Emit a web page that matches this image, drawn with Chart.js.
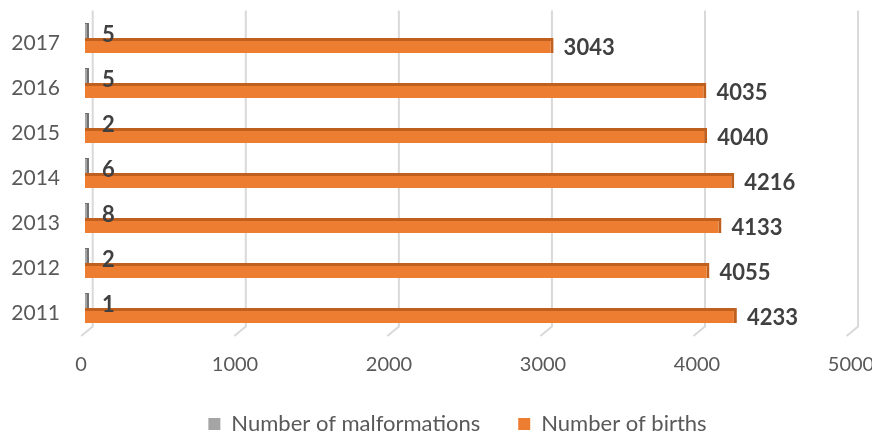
<!DOCTYPE html>
<html>
<head>
<meta charset="utf-8">
<script src="https://cdn.jsdelivr.net/npm/chart.js@4/dist/chart.umd.min.js"></script>
<style>
  html, body { margin: 0; padding: 0; background: #ffffff; }
  #wrap { width: 872px; height: 434px; }
</style>
</head>
<body>
<div id="wrap"><canvas id="chart"></canvas></div>
<script>
// Yearly counts
const years = ['2011', '2012', '2013', '2014', '2015', '2016', '2017'];
const malformations = [1, 2, 8, 6, 2, 5, 5];
const births = [4233, 4055, 4133, 4216, 4040, 4035, 3043];
const xTicks = [0, 1000, 2000, 3000, 4000, 5000];
const seriesNames = ['Number of malformations', 'Number of births'];

const FONT = 'Lato, "Open Sans", sans-serif';
const TEXT = '#595959';

// Back-wall grid lines with a short slanted foot toward the value labels
const backWall = {
  id: 'backWall',
  beforeDatasetsDraw(chart) {
    const { ctx, chartArea, scales: { x } } = chart;
    ctx.save();
    ctx.strokeStyle = '#d9d9d9';
    ctx.lineWidth = 2;
    x.ticks.forEach(t => {
      const px = x.getPixelForValue(t.value);
      const bx = x.left + (px - x.left) * 0.994 + 7.7;
      ctx.beginPath();
      ctx.moveTo(bx, chartArea.top - 5);
      ctx.lineTo(bx, chartArea.bottom - 4);
      ctx.lineTo(bx - 11.5, chartArea.bottom + 5.5);
      ctx.stroke();
    });
    ctx.restore();
  }
};

// Bold value labels just past the end of each bar
const valueLabels = {
  id: 'valueLabels',
  afterDatasetsDraw(chart) {
    const { ctx } = chart;
    ctx.save();
    ctx.font = 'bold 22px ' + FONT;
    ctx.fillStyle = '#404040';
    ctx.textAlign = 'left';
    ctx.textBaseline = 'middle';
    chart.data.datasets.forEach((ds, i) => {
      const meta = chart.getDatasetMeta(i);
      const gap = i === 0 ? 13 : 10;
      const dy = i === 0 ? 4 : 2;
      meta.data.forEach((el, j) => {
        ctx.fillText(String(ds.data[j]), el.x + gap, el.y + dy);
      });
    });
    ctx.restore();
  }
};

// Fixed legend band height at the bottom, nudged right under the plot
const LEGEND_SHIFT = 30;
const legendBand = {
  id: 'legendBand',
  afterInit(chart) {
    const lg = chart.legend;
    if (!lg) return;
    const fit = lg.fit;
    lg.fit = function () {
      fit.call(this);
      this.height = 59;
    };
  },
  afterLayout(chart) {
    const lg = chart.legend;
    if (!lg) return;
    lg.left += LEGEND_SHIFT;
    lg.right += LEGEND_SHIFT;
  }
};

new Chart(document.getElementById('chart'), {
  type: 'bar',
  data: {
    labels: years,
    datasets: [
      {
        label: seriesNames[0],
        data: malformations,
        backgroundColor: '#a5a5a5',
        borderColor: '#707070',
        borderWidth: { top: 1, right: 3, bottom: 0, left: 0 },
        minBarLength: 4,
        categoryPercentage: 0.6667,
        barPercentage: 1
      },
      {
        label: seriesNames[1],
        data: births,
        backgroundColor: '#ed7d31',
        borderColor: '#c0601f',
        borderWidth: { top: 3, right: 3, bottom: 0, left: 0 },
        categoryPercentage: 0.6667,
        barPercentage: 1
      }
    ]
  },
  options: {
    indexAxis: 'y',
    responsive: true,
    maintainAspectRatio: false,
    animation: false,
    layout: { padding: { top: 15.5, right: 17, bottom: 0, left: 0 } },
    plugins: {
      tooltip: { enabled: false },
      legend: {
        position: 'bottom',
        labels: {
          boxWidth: 12,
          boxHeight: 12,
          padding: 38,
          color: TEXT,
          font: { family: FONT, size: 22 },
          generateLabels(chart) {
            const items = Chart.defaults.plugins.legend.labels.generateLabels(chart);
            items.forEach(it => { it.lineWidth = 0; it.strokeStyle = it.fillStyle; });
            return items;
          }
        }
      }
    },
    scales: {
      x: {
        min: 0,
        max: 5000,
        afterBuildTicks(s) { s.ticks = xTicks.map(v => ({ value: v })); },
        afterFit(s) { s.paddingLeft = 0; s.paddingRight = 0; s.height = 44.5; },
        grid: { display: false, drawTicks: false },
        border: { display: false },
        ticks: {
          padding: 22,
          labelOffset: -4,
          color: TEXT,
          font: { family: FONT, size: 20 },
          callback: v => String(v)
        }
      },
      y: {
        reverse: true,
        afterFit(s) { s.width = 85; s.paddingTop = 0; s.paddingBottom = 0; },
        grid: { display: false, drawTicks: false },
        border: { display: false },
        ticks: {
          padding: 25,
          labelOffset: 5.5,
          color: TEXT,
          font: { family: FONT, size: 21 }
        }
      }
    }
  },
  plugins: [backWall, valueLabels, legendBand]
});
</script>
</body>
</html>
